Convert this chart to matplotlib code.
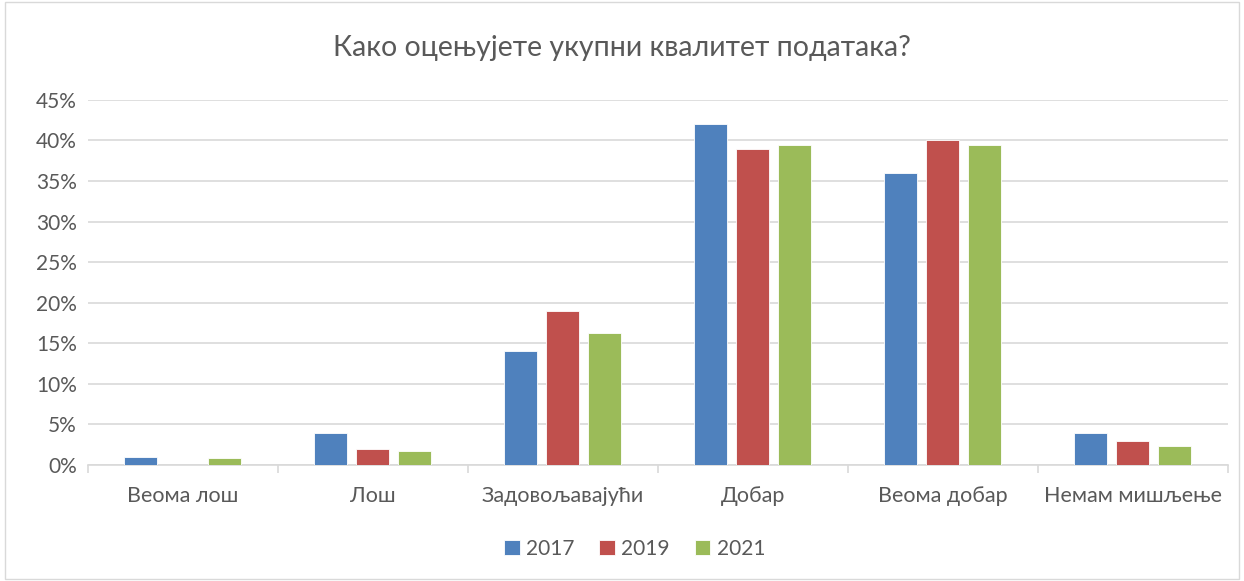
import matplotlib.pyplot as plt
import numpy as np
from matplotlib.ticker import FuncFormatter

plt.rcParams.update({
    'font.family': ['Lato', 'DejaVu Sans'],
})

categories = ['Веома лош', 'Лош', 'Задовољавајући', 'Добар', 'Веома добар', 'Немам мишљење']
years = ['2017', '2019', '2021']
v2017 = [1.0, 4.0, 14.0, 42.0, 36.0, 4.0]
v2019 = [0.0, 2.0, 19.0, 39.0, 40.0, 3.0]
v2021 = [0.8, 1.7, 16.3, 39.5, 39.5, 2.3]
colors = ['#4F81BD', '#C0504D', '#9BBB59']

grey = '#595959'
fig = plt.figure(figsize=(12.44, 5.81), dpi=100)
ax = fig.add_axes([0.0707, 0.1997, 0.9163, 0.6283])

x = np.arange(len(categories))
w = 0.174
step = 0.221
for i, (vals, c, lab) in enumerate(zip([v2017, v2019, v2021], colors, years)):
    ax.bar(x + (i - 1) * step, vals, width=w, color=c, label=lab,
           edgecolor='white', linewidth=0.6, zorder=3)

ax.set_xlim(-0.5, len(categories) - 0.5)
ax.set_ylim(0, 45)
ax.set_yticks(np.arange(0, 46, 5))
ax.yaxis.set_major_formatter(FuncFormatter(lambda v, p: f'{v:.0f}%'))
ax.grid(axis='y', color='#d9d9d9', linewidth=1.2, zorder=0)
for s in ['top', 'right', 'left']:
    ax.spines[s].set_visible(False)
ax.spines['bottom'].set_color('#d9d9d9')
ax.spines['bottom'].set_linewidth(1.2)

# category boundaries get the tick marks, names sit in between
ax.set_xticks(np.arange(-0.5, len(categories), 1.0), minor=False)
ax.set_xticklabels([])
ax.tick_params(axis='x', which='major', length=6, color='#d9d9d9', width=1.2)
ax.set_xticks(x, minor=True)
ax.set_xticklabels(categories, minor=True)
ax.tick_params(axis='x', which='minor', length=0, pad=15, labelsize=15.5, labelcolor=grey)
ax.tick_params(axis='y', length=0, pad=8, labelsize=15, labelcolor=grey)

fig.text(0.5, 0.917, 'Како оцењујете укупни квалитет података?', ha='center', va='center',
         fontsize=20.5, color=grey)

fig.legend(loc='center', bbox_to_anchor=(0.51, 0.055), ncol=3, frameon=False,
           fontsize=15, labelcolor=grey, handlelength=0.75, handleheight=0.75,
           handletextpad=0.3, columnspacing=1.2)

border = plt.Rectangle((0.004, 0.004), 0.992, 0.992, transform=fig.transFigure,
                       fill=False, edgecolor='#d9d9d9', linewidth=1)
fig.patches.append(border)

fig.savefig('out.png', dpi=100)
